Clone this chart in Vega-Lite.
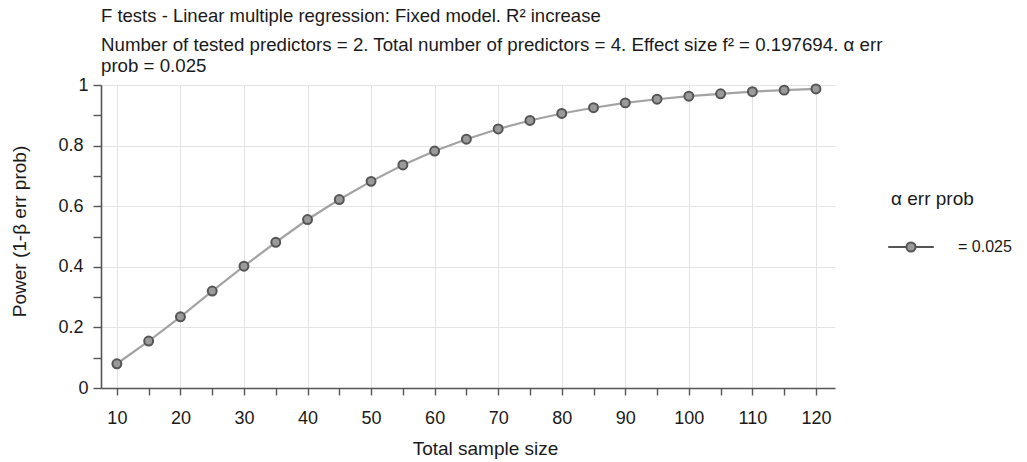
{
  "$schema": "https://vega.github.io/schema/vega-lite/v6.json",
  "autosize": "none",
  "padding": {"left": 101, "top": 85, "right": 192, "bottom": 74},
  "width": 734,
  "height": 303,
  "background": "white",
  "title": {
    "text": "F tests - Linear multiple regression: Fixed model. R² increase",
    "subtitle": ["Number of tested predictors = 2. Total number of predictors = 4. Effect size f² = 0.197694. α err", "prob = 0.025"],
    "anchor": "start",
    "frame": "group",
    "font": "Liberation Sans",
    "fontSize": 18.5,
    "fontWeight": "normal",
    "color": "#1a1a1a",
    "subtitleFont": "Liberation Sans",
    "subtitleFontSize": 18.7,
    "subtitleColor": "#1a1a1a",
    "subtitleLineHeight": 21,
    "subtitlePadding": 11,
    "offset": 0
  },
  "data": {
    "values": [
      {"n": 10, "power": 0.080, "alpha": "= 0.025"},
      {"n": 15, "power": 0.155, "alpha": "= 0.025"},
      {"n": 20, "power": 0.235, "alpha": "= 0.025"},
      {"n": 25, "power": 0.320, "alpha": "= 0.025"},
      {"n": 30, "power": 0.402, "alpha": "= 0.025"},
      {"n": 35, "power": 0.481, "alpha": "= 0.025"},
      {"n": 40, "power": 0.556, "alpha": "= 0.025"},
      {"n": 45, "power": 0.622, "alpha": "= 0.025"},
      {"n": 50, "power": 0.682, "alpha": "= 0.025"},
      {"n": 55, "power": 0.736, "alpha": "= 0.025"},
      {"n": 60, "power": 0.782, "alpha": "= 0.025"},
      {"n": 65, "power": 0.821, "alpha": "= 0.025"},
      {"n": 70, "power": 0.855, "alpha": "= 0.025"},
      {"n": 75, "power": 0.883, "alpha": "= 0.025"},
      {"n": 80, "power": 0.906, "alpha": "= 0.025"},
      {"n": 85, "power": 0.925, "alpha": "= 0.025"},
      {"n": 90, "power": 0.941, "alpha": "= 0.025"},
      {"n": 95, "power": 0.953, "alpha": "= 0.025"},
      {"n": 100, "power": 0.963, "alpha": "= 0.025"},
      {"n": 105, "power": 0.971, "alpha": "= 0.025"},
      {"n": 110, "power": 0.978, "alpha": "= 0.025"},
      {"n": 115, "power": 0.983, "alpha": "= 0.025"},
      {"n": 120, "power": 0.987, "alpha": "= 0.025"}
    ]
  },
  "encoding": {
    "x": {
      "field": "n",
      "type": "quantitative",
      "scale": {"domain": [7.5, 123], "nice": false, "zero": false},
      "axis": {
        "title": "Total sample size",
        "values": [10, 15, 20, 25, 30, 35, 40, 45, 50, 55, 60, 65, 70, 75, 80, 85, 90, 95, 100, 105, 110, 115, 120],
        "labelExpr": "datum.value % 10 === 0 ? datum.label : ''",
        "gridOpacity": {"condition": {"test": "datum.value % 10 === 0", "value": 1}, "value": 0},
        "titleX": 384,
        "titleY": 60,
        "titleAlign": "center",
        "titleBaseline": "middle",
        "titleFontSize": 19,
        "tickSize": 7,
        "labelPadding": 14,
        "labelFlush": false,
        "labelOverlap": false
      }
    },
    "y": {
      "field": "power",
      "type": "quantitative",
      "scale": {"domain": [0, 1], "nice": false},
      "axis": {
        "title": "Power (1-β err prob)",
        "values": [0, 0.1, 0.2, 0.3, 0.4, 0.5, 0.6, 0.7, 0.8, 0.9, 1],
        "labelExpr": "(round(datum.value * 10) % 2 === 0) ? format(datum.value, '~g') : ''",
        "gridOpacity": {"condition": {"test": "round(datum.value * 10) % 2 === 0", "value": 1}, "value": 0},
        "titleX": -82,
        "titleY": 146,
        "titleBaseline": "middle",
        "titleFontSize": 19,
        "tickSize": 8,
        "labelPadding": {"condition": {"test": "datum.value === 0 || datum.value === 1", "value": 5}, "value": 10},
        "labelFlush": false,
        "labelOverlap": false
      }
    }
  },
  "layer": [
    {
      "mark": {"type": "line", "color": "#a3a3a3", "strokeWidth": 2.2},
      "encoding": {}
    },
    {
      "mark": {"type": "point", "filled": false, "fill": "#9a9a9a", "fillOpacity": 1, "stroke": "#555555", "strokeWidth": 2, "size": 80, "opacity": 1},
      "encoding": {
        "color": {
          "field": "alpha",
          "type": "nominal",
          "scale": {"range": ["#555555"]},
          "legend": {
            "title": "α err prob",
            "orient": "none",
            "legendX": 790,
            "legendY": 105,
            "symbolType": "M-1.2,0H-0.26M0.26,0H1.2M0.24,0A0.24,0.24 0 1 1 -0.24,0A0.24,0.24 0 1 1 0.24,0",
            "symbolSize": 1444,
            "symbolStrokeWidth": 2,
            "symbolFillColor": "#9a9a9a",
            "symbolStrokeColor": "#666666",
            "labelOffset": 27,
            "titlePadding": 18,
            "titleFontSize": 19,
            "labelFontSize": 16,
            "titleFontWeight": "normal"
          }
        }
      }
    }
  ],
  "config": {
    "font": "Liberation Sans",
    "view": {"stroke": null},
    "axis": {
      "labelFont": "Liberation Sans",
      "titleFont": "Liberation Sans",
      "labelFontSize": 18,
      "titleFontWeight": "normal",
      "labelColor": "#1a1a1a",
      "titleColor": "#1a1a1a",
      "domainColor": "#555555",
      "domainWidth": 1.6,
      "tickColor": "#555555",
      "tickWidth": 1.4,
      "gridColor": "#e3e3e3",
      "gridWidth": 1
    },
    "legend": {
      "labelFont": "Liberation Sans",
      "titleFont": "Liberation Sans",
      "labelColor": "#1a1a1a",
      "titleColor": "#1a1a1a"
    }
  }
}
